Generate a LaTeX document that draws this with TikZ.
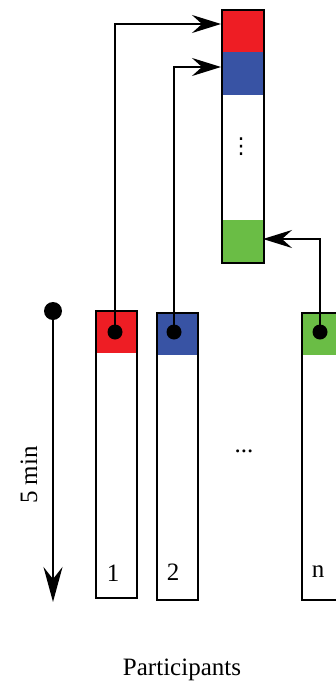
\documentclass[tikz,border=0pt]{standalone}
\usepackage{fontspec}
\setmainfont{Liberation Serif}
\newfontfamily\symfont{DejaVu Sans}
\usetikzlibrary{arrows.meta}
\definecolor{slotred}{HTML}{EE1D24}
\definecolor{slotblue}{HTML}{3853A4}
\definecolor{slotgreen}{HTML}{6ABD45}

\begin{document}
\begin{tikzpicture}[x=1pt,y=-1pt,
  font=\fontsize{25}{30}\selectfont,
  bar/.style={draw=black,line width=2pt,minimum width=41pt,minimum height=287pt,
    inner sep=0pt,anchor=north west,
    path picture={\fill[#1] (path picture bounding box.north west)
      rectangle ([yshift=-42pt]path picture bounding box.north east);}},
  dot/.style={circle,fill=black,minimum size=15pt,inner sep=0pt},
  link/.style={line width=2pt,-{Stealth[length=29pt,width=18pt,inset=10pt]}}]
  \useasboundingbox (0,0) rectangle (336,688);

  % collected slots
  \node[draw=black,line width=2pt,minimum width=42pt,minimum height=253pt,
    inner sep=0pt,anchor=north west,
    path picture={
      \fill[slotred] (path picture bounding box.north west)
        rectangle ([yshift=-42pt]path picture bounding box.north east);
      \fill[slotblue] ([yshift=-42pt]path picture bounding box.north west)
        rectangle ([yshift=-85pt]path picture bounding box.north east);
      \fill[slotgreen] ([yshift=43pt]path picture bounding box.south west)
        rectangle (path picture bounding box.south east);}] (queue) at (221,9) {};
  \node[font=\symfont\fontsize{22}{26}\selectfont] (vd) at (241,147) {⋮};

  % participants
  \node[bar=slotred] (p1) at (95,310) {};
  \node[bar=slotblue] (p2) at (156,312) {};
  \node[bar=slotgreen] (pn) at (301,312) {};
  \node (l1) at (113,573) {1};
  \node (l2) at (173,572) {2};
  \node (ln) at (318,572) {n};
  \node (hd) at (244,451) {...};

  \node[dot] (d1) at (115,332) {};
  \node[dot] (d2) at (174,332) {};
  \node[dot] (dn) at (320,332) {};
  \coordinate (r1) at (221,24);
  \coordinate (r2) at (221,67);
  \coordinate (rn) at (263,239);
  \draw[link] (d1.center) |- (r1);
  \draw[link] (d2.center) |- (r2);
  \draw[link] (dn.center) |- (rn);

  % time axis
  \node[dot,minimum size=18pt] (t0) at (53,311) {};
  \coordinate (t1) at (53,602);
  \draw[line width=2pt,-{Stealth[length=35pt,width=19pt,inset=12pt]}] (t0.center) -- (t1);
  \node[rotate=90] (tl) at (29,475) {5 min};

  \node (cap) at (182,670) {Participants};
\end{tikzpicture}
\end{document}
